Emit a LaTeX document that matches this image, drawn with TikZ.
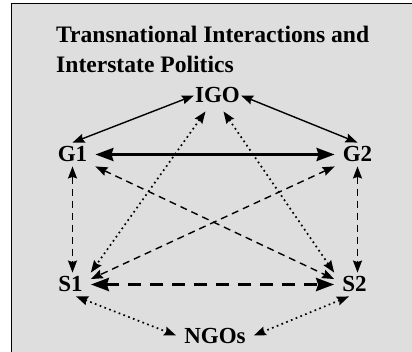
\documentclass[tikz,border=0pt]{standalone}
\usepackage{fontspec}
\setmainfont{Liberation Serif}
\usetikzlibrary{arrows.meta}
\definecolor{panel}{RGB}{222,222,222}

\begin{document}
\begin{tikzpicture}[x=1pt,y=-1pt,
    actor/.style={font=\fontsize{23}{27}\selectfont\bfseries, inner xsep=8pt, inner ysep=4pt, anchor=base},
    heading/.style={font=\fontsize{23.6}{30}\selectfont\bfseries, align=left, inner sep=0pt, anchor=north west},
    tip/.style={{Stealth[length=12pt,width=9pt,inset=1.5pt]}-{Stealth[length=12pt,width=9pt,inset=1.5pt]}},
    bigtip/.style={{Stealth[length=18pt,width=13pt,inset=2pt]}-{Stealth[length=18pt,width=13pt,inset=2pt]}},
    link/.style={tip, line width=1.4pt},
    strong/.style={bigtip, line width=3pt},
    weak/.style={tip, line width=1.4pt, dash pattern=on 7pt off 5pt},
    weakstrong/.style={bigtip, line width=3.4pt, dash pattern=on 13pt off 9pt},
    loose/.style={tip, line width=1.7pt, dash pattern=on 1.7pt off 3.4pt}]
    % frame
    \useasboundingbox (0,0) rectangle (412,352);
    \clip (0,0) rectangle (412,352);
    \fill[white] (0,0) rectangle (412,352);
    \filldraw[fill=panel, draw=black, line width=1.5pt] (11.5,3.5) rectangle (420,360);
    % labels
    \node[heading] (title) at (56,26) {Transnational Interactions and\\Interstate Politics};
    \node[actor, inner xsep=1pt] (IGO) at (217.5,103) {IGO};
    \node[actor] (G1) at (72.5,162) {G1};
    \node[actor] (G2) at (357.5,162) {G2};
    \node[actor] (S1) at (70.5,292) {S1};
    \node[actor] (S2) at (354.5,292) {S2};
    \node[actor] (NGOs) at (215,343) {NGOs};
    % governments and the IGO
    \draw[link] (G1.north) -- (IGO.west);
    \draw[link] (IGO.east) -- (G2.north);
    \draw[strong] (G1.east) -- (G2.west);
    % governments and societies
    \draw[weak] (G1.south) -- (G1.south |- S1.north);
    \draw[weak] (G2.south) -- (G2.south |- S2.north);
    \draw[weak] (G1.south east) -- (S2.165);
    \draw[weak] (G2.south west) -- (S1.15);
    \draw[weakstrong] (S1.east) -- (S2.west);
    % transnational ties
    \draw[loose] ([xshift=-12pt,yshift=-4pt]IGO.south) -- (S1.north east);
    \draw[loose] ([xshift=6pt,yshift=-4pt]IGO.south) -- (S2.north west);
    \draw[loose] (S1.-65) -- (NGOs.west);
    \draw[loose] (S2.-115) -- (NGOs.east);
\end{tikzpicture}
\end{document}
